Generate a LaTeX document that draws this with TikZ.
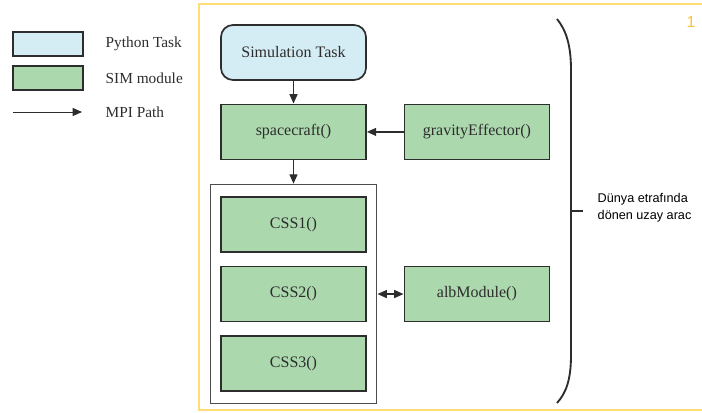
\documentclass[tikz,border=0pt]{standalone}
\usepackage{fontspec}
\setmainfont{Liberation Serif}
\setsansfont{Liberation Sans}
\usetikzlibrary{arrows.meta, positioning, fit}
\definecolor{pytask}{RGB}{212, 236, 243}
\definecolor{simmod}{RGB}{172, 216, 174}
\definecolor{edge}{RGB}{45, 45, 45}
\definecolor{slide}{RGB}{255, 222, 120}
\definecolor{pagenum}{RGB}{245, 195, 60}

\begin{document}
\begin{tikzpicture}[
    x=0.75pt, y=-0.75pt,
    >={Triangle[length=7pt, width=6pt]},
    node distance=18pt and 29.25pt,
    block/.style={rectangle, draw=edge, fill=#1, line width=1.3pt, minimum width=108.75pt, minimum height=41.25pt, font=\fontsize{12}{14}\selectfont, text=edge},
    task/.style={block=pytask, rounded corners=9pt},
    module/.style={block=simmod},
    mpi/.style={->, draw=edge, line width=0.9pt},
    legend/.style={anchor=west, font=\fontsize{11.5}{13}\selectfont, text=edge}
  ]
  \useasboundingbox (0,0) rectangle (702,412);

  % Slide frame
  \draw[slide, line width=1.2pt] (199,4) rectangle (720,410);
  \node[font=\sffamily\fontsize{12}{14}\selectfont, text=pagenum] (pnum) at (691,22) {1};

  % Legend
  \node[block=pytask, minimum width=52.5pt, minimum height=18pt] (keytask) at (48,44) {};
  \node[module, minimum width=52.5pt, minimum height=18pt] (keymod) at (48,78) {};
  \coordinate (keyfrom) at (13,112);
  \coordinate (keyto) at (82,112);
  \draw[mpi, line width=0.7pt] (keyfrom) -- (keyto);
  \node[legend] at (101,44) {Python Task};
  \node[legend] at (101,78) {SIM module};
  \node[legend] at (101,112) {MPI Path};

  % Nodes
  \node[task] (sim) at (293.5,52.5) {Simulation Task};
  \node[module, below=17pt of sim] (craft) {spacecraft()};
  \node[module, right=27.5pt of craft] (grav) {gravityEffector()};

  % Sensor modules
  \node[module, below=27pt of craft] (css1) {CSS1()};
  \node[module, below=9.5pt of css1] (css2) {CSS2()};
  \node[module, below=9.5pt of css2] (css3) {CSS3()};
  \node[draw=edge!85, line width=0.9pt, inner xsep=7.5pt, inner ysep=9pt, fit=(css1)(css3)] (sensors) {};
  \node[module, right=27.5pt of css2] (alb) {albModule()};

  % MPI paths
  \draw[mpi] (sim) -- (craft);
  \draw[mpi] (grav) -- (craft);
  \draw[mpi] (craft) -- (sensors);
  \draw[mpi, <->] (sensors.east |- alb) -- (alb);

  % Brace and note
  \draw[edge, line width=1.4pt] (557,19) .. controls (566,30) and (571,45) .. (571,70)
    -- (571,355) .. controls (571,380) and (566,393) .. (557,403);
  \draw[edge, line width=1.4pt] (571,211) -- (583,211);
  \node[anchor=west, align=left, font=\sffamily\fontsize{9.5}{12.75}\selectfont, text=black] (note) at (593,208) {Dünya etrafında\\dönen uzay arac};

\end{tikzpicture}
\end{document}
